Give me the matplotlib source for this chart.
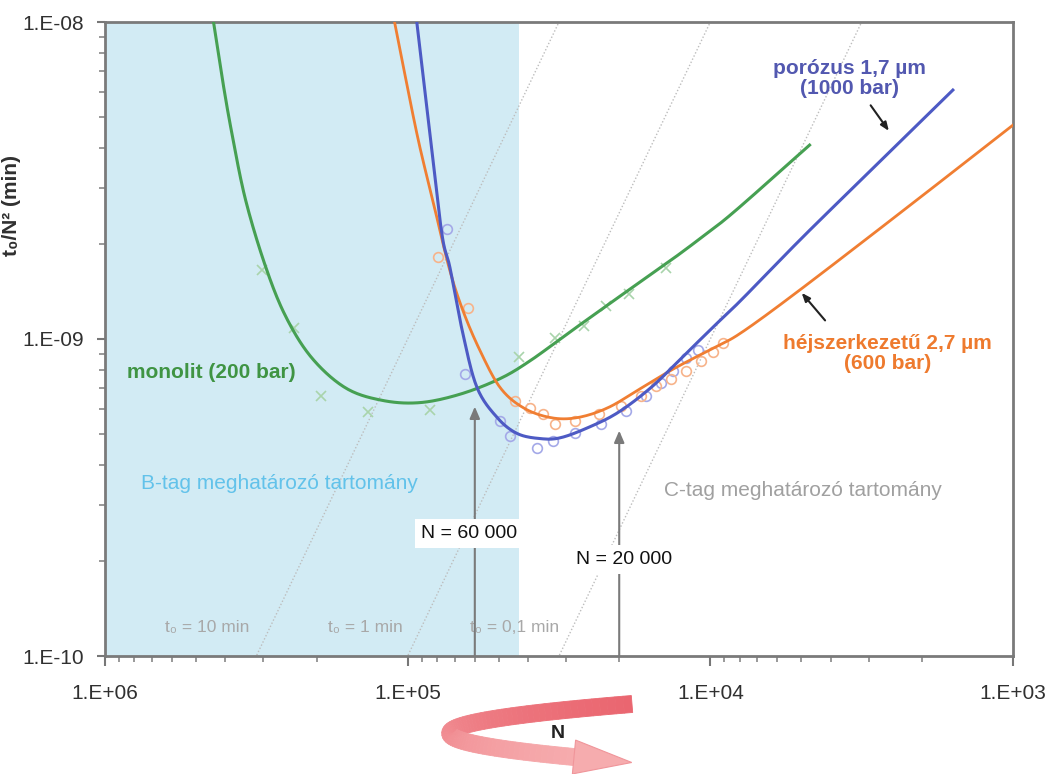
import numpy as np
import matplotlib.pyplot as plt
from matplotlib.patches import Polygon
from matplotlib.ticker import NullFormatter, LogLocator
from matplotlib.colors import to_rgb

plt.rcParams['font.family'] = ['Liberation Sans', 'DejaVu Sans']

# monolit (200 bar) - illesztett görbe és mért pontok
mono_N = [4.38e5, 4.09e5, 3.81e5, 3.43e5, 2.94e5, 2.52e5, 2.07e5, 1.6e5, 1.21e5, 9.1e4,
          6.7e4, 4.95e4, 3.93e4, 2.96e4, 2.02e4, 1.38e4, 1.07e4, 8.3e3, 4.7e3]
mono_y = [1.0e-8, 6.56e-9, 4.46e-9, 2.74e-9, 1.68e-9, 1.17e-9, 8.7e-10, 7.0e-10, 6.4e-10, 6.3e-10,
          6.7e-10, 7.5e-10, 8.55e-10, 1.04e-9, 1.35e-9, 1.745e-9, 2.09e-9, 2.53e-9, 4.09e-9]
mono_pts_N = [3.03e5, 2.37e5, 1.93e5, 1.35e5, 8.45e4, 4.28e4, 3.25e4, 2.62e4, 2.22e4, 1.86e4, 1.40e4]
mono_pts_y = [1.65e-9, 1.08e-9, 6.63e-10, 5.9e-10, 5.99e-10, 8.8e-10, 1.01e-9, 1.10e-9, 1.27e-9, 1.39e-9, 1.67e-9]

# porózus 1,7 µm (1000 bar)
por_N = [9.33e4, 8.45e4, 7.71e4, 7.25e4, 6.57e4, 5.90e4, 5.06e4, 4.34e4, 3.64e4, 3.13e4,
         2.54e4, 2.02e4, 1.57e4, 1.25e4, 9.70e3, 7.89e3, 4.99e3, 2.99e3, 1.58e3]
por_y = [1.0e-8, 4.46e-9, 2.15e-9, 1.68e-9, 1.04e-9, 7.03e-10, 5.65e-10, 5.03e-10, 4.85e-10, 4.88e-10,
         5.25e-10, 5.86e-10, 7.03e-10, 8.68e-10, 1.10e-9, 1.33e-9, 2.08e-9, 3.36e-9, 6.10e-9]
por_pts_N = [7.42e4, 6.47e4, 4.95e4, 4.58e4, 3.73e4, 3.30e4, 2.79e4, 2.30e4, 1.90e4, 1.63e4,
             1.455e4, 1.327e4, 1.20e4, 1.096e4]
por_pts_y = [2.23e-9, 7.78e-10, 5.53e-10, 4.96e-10, 4.54e-10, 4.78e-10, 5.07e-10, 5.41e-10, 5.94e-10, 6.63e-10,
             7.29e-10, 7.95e-10, 8.68e-10, 9.20e-10]

# héjszerkezetű 2,7 µm (600 bar)
hej_N = [1.105e5, 9.33e4, 8.26e4, 7.30e4, 6.57e4, 5.77e4, 4.95e4, 4.15e4, 3.37e4, 2.75e4,
         2.18e4, 1.70e4, 1.317e4, 9.70e3, 7.89e3, 5.10e3, 2.32e3, 1.0e3]
hej_y = [1.0e-8, 4.46e-9, 2.74e-9, 1.68e-9, 1.23e-9, 9.20e-10, 7.03e-10, 6.07e-10, 5.65e-10, 5.65e-10,
         6.07e-10, 6.98e-10, 8.07e-10, 9.40e-10, 1.048e-9, 1.42e-9, 2.53e-9, 4.73e-9]
hej_pts_N = [7.95e4, 6.32e4, 4.41e4, 3.93e4, 3.56e4, 3.25e4, 2.79e4, 2.34e4, 1.98e4, 1.70e4,
             1.51e4, 1.35e4, 1.20e4, 1.071e4, 9.77e3, 9.05e3]
hej_pts_y = [1.81e-9, 1.25e-9, 6.39e-10, 6.07e-10, 5.81e-10, 5.41e-10, 5.53e-10, 5.81e-10, 6.16e-10, 6.63e-10,
             7.13e-10, 7.50e-10, 7.95e-10, 8.55e-10, 9.07e-10, 9.68e-10]

t0_list = [10, 1, 0.1]  # min
t0_labels = ['t₀ = 10 min', 't₀ = 1 min', 't₀ = 0,1 min']
t0_label_N = [6.32e5, 1.83e5, 6.22e4]
B_limit = 4.3e4  # a B-tag tartomány határa
xticks = [1e6, 1e5, 1e4, 1e3]
xlabels = ['1.E+06', '1.E+05', '1.E+04', '1.E+03']
yticks = [1e-10, 1e-9, 1e-8]
ylabels = ['1.E-10', '1.E-09', '1.E-08']

green, blue, orange = '#46a052', '#4d5ac4', '#f07e32'


def smooth(xs, ys, n=16):
    # Excel-féle simított vonal (Catmull-Rom) log-log térben
    P = np.column_stack([np.log10(xs), np.log10(ys)])
    P = np.vstack([2 * P[0] - P[1], P, 2 * P[-1] - P[-2]])
    t = np.linspace(0, 1, n, endpoint=False)[:, None]
    out = []
    for i in range(1, len(P) - 2):
        p0, p1, p2, p3 = P[i - 1:i + 3]
        out.append(0.5 * (2 * p1 + (p2 - p0) * t + (2 * p0 - 5 * p1 + 4 * p2 - p3) * t ** 2
                          + (3 * p1 - p0 - 3 * p2 + p3) * t ** 3))
    out.append(P[-2][None])
    out = np.vstack(out)
    return 10 ** out[:, 0], 10 ** out[:, 1]


W, H = 1051, 774
fig = plt.figure(figsize=(W / 100, H / 100), dpi=100)
ax = fig.add_axes([105 / W, 1 - 656 / H, (1013 - 105) / W, (656 - 22) / H])
ax.set_xscale('log')
ax.set_yscale('log')
ax.set_xlim(1e6, 1e3)
ax.set_ylim(1e-10, 1e-8)

ax.axvspan(1e6, B_limit, color='#d2ebf4', zorder=0, lw=0)

# t0 = konstans vonalak
Nline = np.array([1e3, 1e6])
for t0 in t0_list:
    ax.plot(Nline, t0 / Nline ** 2, color='#bdbdbd', lw=1, ls=(0, (1, 1.5)), zorder=1)
for lab, n in zip(t0_labels, t0_label_N):
    ax.text(n, 1.226e-10, lab, fontsize=12.5, color='#a8a8a8', va='center', ha='left', zorder=2)

# mért pontok
ax.plot(mono_pts_N, mono_pts_y, 'x', color='#a9d4ab', ms=7, mew=1.2, zorder=3)
ax.plot(por_pts_N, por_pts_y, 'o', mfc='none', mec='#a4a9e8', ms=7, mew=1.2, zorder=3)
ax.plot(hej_pts_N, hej_pts_y, 'o', mfc='none', mec='#f7b38a', ms=7, mew=1.2, zorder=3)

# illesztett görbék
ax.plot(*smooth(mono_N, mono_y), color=green, lw=2.2, zorder=4)
ax.plot(*smooth(hej_N, hej_y), color=orange, lw=2.0, zorder=4)
ax.plot(*smooth(por_N, por_y), color=blue, lw=2.2, zorder=5)

# feliratok
ax.text(4.45e5, 7.83e-10, 'monolit (200 bar)', color='#3f9443', fontsize=15, fontweight='bold',
        ha='center', va='center')
ax.text(3.48e3, 6.65e-9, 'porózus 1,7 µm\n(1000 bar)', color='#5258b0', fontsize=15, fontweight='bold',
        ha='center', va='center', multialignment='center', linespacing=1.05)
ax.annotate('', xy=(2.54e3, 4.46e-9), xytext=(2.99e3, 5.55e-9),
            arrowprops=dict(arrowstyle='-|>,head_length=0.5,head_width=0.2', color='#222222', lw=1.5))
ax.text(2.60e3, 9.0e-10, 'héjszerkezetű 2,7 µm\n(600 bar)', color='#ee7a2e', fontsize=15, fontweight='bold',
        ha='center', va='center', multialignment='center', linespacing=1.05)
ax.annotate('', xy=(5.06e3, 1.42e-9), xytext=(4.12e3, 1.127e-9),
            arrowprops=dict(arrowstyle='-|>,head_length=0.5,head_width=0.2', color='#222222', lw=1.5))

ax.text(7.59e5, 3.49e-10, 'B-tag meghatározó tartomány', color='#62c2ea', fontsize=15,
        ha='left', va='center')
ax.text(1.42e4, 3.32e-10, 'C-tag meghatározó tartomány', color='#a0a0a0', fontsize=15,
        ha='left', va='center')

# N jelölések
for n_arrow, y_tip, n_txt, y_txt, txt in [(6e4, 6.12e-10, 6.27e4, 2.43e-10, 'N = 60 000'),
                                         (2e4, 5.14e-10, 1.93e4, 2.02e-10, 'N = 20 000')]:
    ax.annotate('', xy=(n_arrow, y_tip), xytext=(n_arrow, 1e-10),
                arrowprops=dict(arrowstyle='-|>,head_length=0.7,head_width=0.3', color='#7a7a7a',
                                lw=1.5, shrinkA=0, shrinkB=0), zorder=6)
    ax.text(n_txt, y_txt, txt, fontsize=14, color='#111111', ha='center', va='center', zorder=7,
            bbox=dict(boxstyle='square,pad=0.3', fc='white', ec='none'))

# tengelyek
ax.set_xticks(xticks)
ax.set_xticklabels(xlabels)
ax.set_yticks(yticks)
ax.set_yticklabels(ylabels)
ax.xaxis.set_minor_locator(LogLocator(base=10, subs=np.arange(2, 10)))
ax.yaxis.set_minor_locator(LogLocator(base=10, subs=np.arange(2, 10)))
ax.xaxis.set_minor_formatter(NullFormatter())
ax.yaxis.set_minor_formatter(NullFormatter())
ax.tick_params(axis='x', which='major', length=7, width=1.5, color='#777777', pad=13,
               labelsize=15, labelcolor='#303030')
ax.tick_params(axis='y', which='major', length=6, width=1.5, color='#777777', pad=9,
               labelsize=15, labelcolor='#303030')
ax.tick_params(which='minor', length=4, width=1.2, color='#888888')
for s in ax.spines.values():
    s.set_color('#7a7a7a')
    s.set_linewidth(2)

ax.set_ylabel('t₀/N² (min)', fontsize=15, fontweight='bold', color='#303030')
ax.yaxis.set_label_coords(-0.092, 0.71)

# N irányát jelző görbe nyíl (pixelben megadva, y lefelé)
P0, P1, P2 = np.array([632, 704.0]), np.array([300, 731.0]), np.array([574, 757.0])
tt = np.linspace(0, 1, 80)
cen = ((1 - tt) ** 2)[:, None] * P0 + (2 * (1 - tt) * tt)[:, None] * P1 + (tt ** 2)[:, None] * P2
der = (2 * (1 - tt))[:, None] * (P1 - P0) + (2 * tt)[:, None] * (P2 - P1)
nrm = np.column_stack([-der[:, 1], der[:, 0]]) / np.linalg.norm(der, axis=1)[:, None]
half = 8.5
edge_a = cen + nrm * half
edge_b = cen - nrm * half
c_top, c_bot = np.array(to_rgb('#ea6670')), np.array(to_rgb('#f6acae'))


def to_fig(pts):
    pts = np.asarray(pts)
    return np.column_stack([pts[:, 0] / W, 1 - pts[:, 1] / H])


for i in range(len(tt) - 1):
    quad = [edge_a[i], edge_a[i + 1], edge_b[i + 1], edge_b[i]]
    col = c_top + (c_bot - c_top) * tt[i]
    fig.add_artist(Polygon(to_fig(quad), closed=True, transform=fig.transFigure,
                           fc=col, ec=col, lw=0.6))
d_end = der[-1] / np.linalg.norm(der[-1])
n_end = nrm[-1]
head = [P2 + n_end * 17, P2 + d_end * 58, P2 - n_end * 17]
fig.add_artist(Polygon(to_fig(head), closed=True, transform=fig.transFigure,
                       fc='#f6acae', ec='#f0959a', lw=0.8))
fig.text(558 / W, 1 - 733 / H, 'N', fontsize=14, fontweight='bold', color='#222222',
         ha='center', va='center')

fig.savefig('out.png', dpi=100)
